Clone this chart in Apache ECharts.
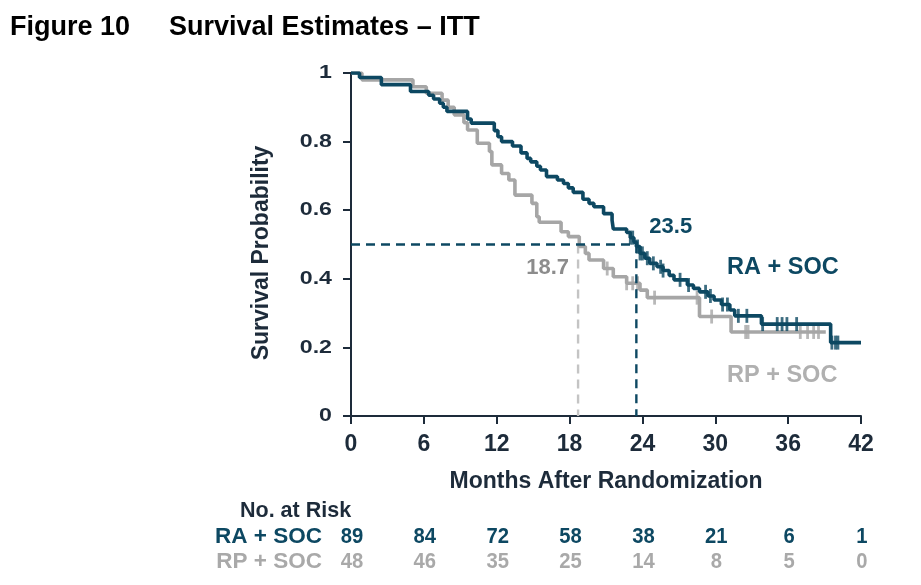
<!DOCTYPE html>
<html><head><meta charset="utf-8">
<script src="https://cdn.jsdelivr.net/npm/echarts@6/dist/echarts.min.js"></script>
<style>html,body{margin:0;padding:0;background:#fff}#c{width:921px;height:585px}</style>
</head><body><div id="c"></div>
<script>
// ---- data ----
const xTicks = [0, 6, 12, 18, 24, 30, 36, 42];
const yTicks = [0, 0.2, 0.4, 0.6, 0.8, 1];
const yTickLabels = ['0', '0.2', '0.4', '0.6', '0.8', '1'];
const raTimes = [0,0.7,2.5,4.9,6.4,6.8,7.3,7.6,7.9,9.6,9.9,11.8,12.1,12.4,13.3,14.0,14.5,14.8,15.3,15.6,16.1,17.0,17.5,17.9,18.3,19.1,19.6,20.0,20.8,21.5,21.6,22.7,23.0,23.3,23.5,23.8,24.2,24.6,25.2,25.7,26.2,26.6,27.7,28.2,28.7,29.4,29.9,30.5,31.2,31.6,33.8,39.5,42];
const raSurv  = [1,0.987,0.966,0.946,0.935,0.924,0.912,0.9,0.888,0.866,0.854,0.832,0.814,0.8,0.787,0.767,0.751,0.741,0.728,0.717,0.698,0.688,0.678,0.665,0.652,0.632,0.62,0.61,0.59,0.571,0.545,0.535,0.52,0.507,0.494,0.474,0.46,0.445,0.435,0.424,0.41,0.397,0.382,0.372,0.362,0.35,0.338,0.325,0.309,0.292,0.268,0.214,0.214];
const rpTimes = [0,0.9,5.1,6.2,7.5,8.0,8.5,9.3,9.6,10.4,11.4,11.6,12.4,13.0,13.5,14.9,15.3,15.5,17.3,17.9,18.8,19.3,19.6,20.8,21.6,22.7,23.8,24.4,28.7,31.3,39.1];
const rpSurv  = [1,0.98,0.96,0.941,0.921,0.9,0.878,0.855,0.834,0.795,0.771,0.732,0.707,0.688,0.644,0.62,0.581,0.565,0.537,0.523,0.494,0.474,0.455,0.43,0.406,0.387,0.367,0.345,0.29,0.245,0.245];
const raCensor = [23.0,23.2,23.6,23.8,24.0,24.4,24.9,25.5,25.7,27.1,27.8,29.2,29.6,30.6,31.0,31.9,32.6,33.9,35.1,35.5,35.9,36.7,39.6,39.9,40.1];
const rpCensor = [21.1,22.7,23.2,23.6,25.0,28.5,29.7,32.5,32.7,37.0,37.6,38.1,38.5];
const raMedian = 23.5, rpMedian = 18.7, medianLevel = 0.5;
const riskTimes = [0, 6, 12, 18, 24, 30, 36, 42];
const raRisk = [89, 84, 72, 58, 38, 21, 6, 1];
const rpRisk = [48, 46, 35, 25, 14, 8, 5, 0];
const raName = 'RA + SOC', rpName = 'RP + SOC';

// ---- styles ----
const DARK = '#0d4862', GREY = '#a6a6a6', AXIS = '#1d2b3a';
const FONT = '"Liberation Sans", Arial, sans-serif';

function survAt(times, surv, t){ let v = surv[0]; for (let i=0;i<times.length;i++){ if (times[i] <= t) v = surv[i]; } return v; }
const zip = (a,b) => a.map((v,i)=>[v,b[i]]);

const chart = echarts.init(document.getElementById('c'), null, {renderer:'canvas'});
const option = {
  animation:false,
  grid:{left:351, right:60, top:73, bottom:169, containLabel:false},
  xAxis:{type:'value', min:0, max:42, interval:6,
    axisLine:{show:true, lineStyle:{color:AXIS, width:2}},
    axisTick:{show:true, length:8, lineStyle:{color:AXIS, width:2}},
    axisLabel:{color:AXIS, fontFamily:FONT, fontWeight:'bold', fontSize:23, margin:17},
    splitLine:{show:false},
    name:'Months After Randomization', nameLocation:'middle', nameGap:54,
    nameTextStyle:{color:AXIS, fontFamily:FONT, fontWeight:'bold', fontSize:23}},
  yAxis:{type:'value', min:0, max:1, interval:0.2,
    axisLine:{show:true, lineStyle:{color:AXIS, width:2}},
    axisTick:{show:true, length:8, lineStyle:{color:AXIS, width:2}},
    axisLabel:{show:false},
    splitLine:{show:false}},
  series:[
    {type:'line', name:rpName, step:'end', showSymbol:false, data:zip(rpTimes, rpSurv),
      lineStyle:{color:GREY, width:3.6}, z:2},
    {type:'line', name:raName, step:'end', showSymbol:false, data:zip(raTimes, raSurv),
      lineStyle:{color:DARK, width:3.6}, z:3},
    {type:'scatter', data:rpCensor.map(t=>[t, survAt(rpTimes, rpSurv, t)]), symbol:'rect',
      symbolSize:[2.8,14], itemStyle:{color:GREY}, z:2},
    {type:'scatter', data:raCensor.map(t=>[t, survAt(raTimes, raSurv, t)]), symbol:'rect',
      symbolSize:[2.8,14], itemStyle:{color:DARK}, z:3},
    {type:'line', data:[[0,medianLevel],[raMedian,medianLevel],[raMedian,0]], showSymbol:false,
      lineStyle:{color:DARK, width:2.4, type:[9,6]}, z:4},
    {type:'line', data:[[rpMedian,medianLevel],[rpMedian,0]], showSymbol:false,
      lineStyle:{color:'#c4c4c4', width:2.4, type:[9,6]}, z:1}
  ]
};
chart.setOption(option);

const px = (x,y) => chart.convertToPixel({gridIndex:0}, [x,y]);
const g = [];
const txt = (x,y,text,color,size,align,sx,rot) => g.push({type:'text', x, y, scaleX:sx||1, rotation:rot||0, style:{text, fill:color, font:'bold '+size+'px '+FONT, textAlign:align||'left', textVerticalAlign:'middle'}});
txt(10, 28, 'Figure 10', '#000', 27);
txt(169, 28, 'Survival Estimates \u2013 ITT', '#000', 27);
yTicks.forEach((v,i)=>{ const p = px(0, v); txt(p[0]-19, p[1], yTickLabels[i], AXIS, 19, 'right', 1.22); });
txt(262, 253, 'Survival Probability', AXIS, 23, 'center', 1, Math.PI/2);
const pRa = px(raMedian, medianLevel), pRp = px(rpMedian, medianLevel);
txt(pRa[0]+13, pRa[1]-18, String(raMedian), DARK, 22);
txt(pRp[0]-9, pRp[1]+23, String(rpMedian), '#8c8c8c', 22, 'right');
txt(727, 268, raName, DARK, 23.5);
txt(727, 376, rpName, '#b0b0b0', 23.5);
txt(240, 511, 'No. at Risk', AXIS, 21.5);
txt(322, 537, raName, DARK, 22.5, 'right');
txt(322, 562, rpName, '#a9a9a9', 22.5, 'right');
riskTimes.forEach((t,i)=>{
  const p = px(t, 0);
  txt(p[0]+1, 537, String(raRisk[i]), DARK, 22, 'center', 0.92);
  txt(p[0]+1, 562, String(rpRisk[i]), '#a9a9a9', 22, 'center', 0.92);
});
chart.setOption({graphic:g});
</script></body></html>
